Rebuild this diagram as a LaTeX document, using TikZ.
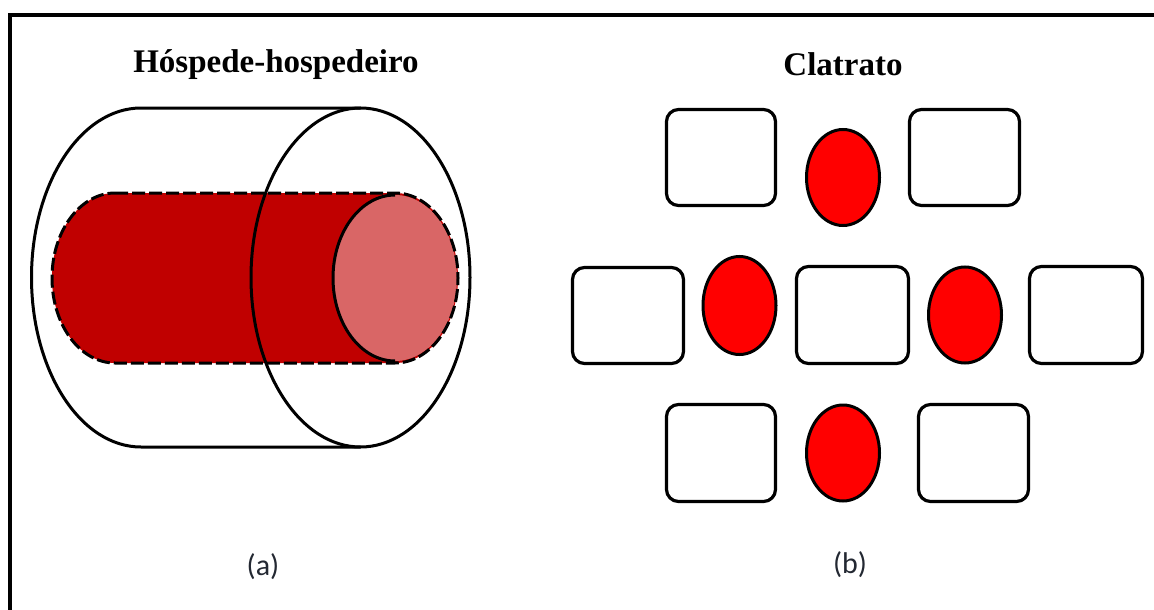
\documentclass[tikz,border=0pt]{standalone}
\usepackage{fontspec}
\setmainfont{Liberation Serif}
\newfontfamily\labfont{Carlito}
\usetikzlibrary{shapes.geometric}
\definecolor{darkred}{RGB}{192,0,0}
\definecolor{pinkred}{RGB}{217,102,102}
\definecolor{labgray}{RGB}{35,40,50}
\tikzset{
  cell/.style={draw=black, line width=3.2pt, rounded corners=12pt, fill=white, inner sep=0pt},
  guest/.style={ellipse, draw=black, line width=3pt, fill=red, inner sep=0pt, minimum width=73pt, minimum height=96pt},
  title/.style={font=\fontsize{33}{36}\selectfont\bfseries, anchor=base, inner sep=0pt},
  sublabel/.style={font=\labfont\fontsize{30}{34}\selectfont, text=labgray, anchor=base, inner sep=0pt},
  outline/.style={draw=black, line width=3pt},
}
\begin{document}
\begin{tikzpicture}[x=1pt, y=1pt]
\useasboundingbox (0,-610) rectangle (1154,0);
\fill[white] (0,-610) rectangle (1154,0);
% frame (clipped at right and bottom)
\draw[line width=3.2pt] (10,-612) -- (10,-15) -- (1156,-15);

% titles
\node[title] (t1) at (276,-73) {Hóspede-hospedeiro};
\node[title] (t2) at (843,-75) {Clatrato};

% (a) host cylinder: outer contour
\draw[outline] (360.5,-108) -- (141,-108)
  arc[start angle=90, end angle=270, x radius=109.5, y radius=169.5] -- (360.5,-447);
% guest body
\fill[darkred] (115,-193) -- (395,-193)
  arc[start angle=90, end angle=-90, x radius=63, y radius=85] -- (115,-363)
  arc[start angle=270, end angle=90, x radius=63, y radius=85] -- cycle;
\fill[pinkred] (395,-278) ellipse[x radius=62, y radius=83];
\draw[outline] (395,-195) arc[start angle=90, end angle=270, x radius=62, y radius=83];
\draw[outline, dash pattern=on 13pt off 4pt] (115,-193) -- (395,-193)
  arc[start angle=90, end angle=-90, x radius=63, y radius=85] -- (115,-363)
  arc[start angle=270, end angle=90, x radius=63, y radius=85] -- cycle;
% front ellipse of host
\draw[outline] (360.5,-277.5) ellipse[x radius=109.5, y radius=169.5];

\node[sublabel] (la) at (263,-575) {(a)};

% (b) clathrate
\node[cell, minimum width=109pt, minimum height=96pt] (b11) at (721,-157.5) {};
\node[guest] (g1) at (843,-177.5) {};
\node[cell, minimum width=110pt, minimum height=96pt] (b12) at (964.5,-157.5) {};

\node[cell, minimum width=111pt, minimum height=96pt] (b21) at (628,-315.5) {};
\node[guest, minimum height=98pt] (g2) at (739.5,-305.5) {};
\node[cell, minimum width=112pt, minimum height=97pt] (b22) at (852.5,-315) {};
\node[guest] (g3) at (965,-315) {};
\node[cell, minimum width=113pt, minimum height=97pt] (b23) at (1086,-315) {};

\node[cell, minimum width=109pt, minimum height=97pt] (b31) at (721,-453) {};
\node[guest] (g4) at (843,-453) {};
\node[cell, minimum width=110pt, minimum height=97pt] (b32) at (973.5,-453) {};

\node[sublabel] (lb) at (850,-573) {(b)};
\end{tikzpicture}
\end{document}
